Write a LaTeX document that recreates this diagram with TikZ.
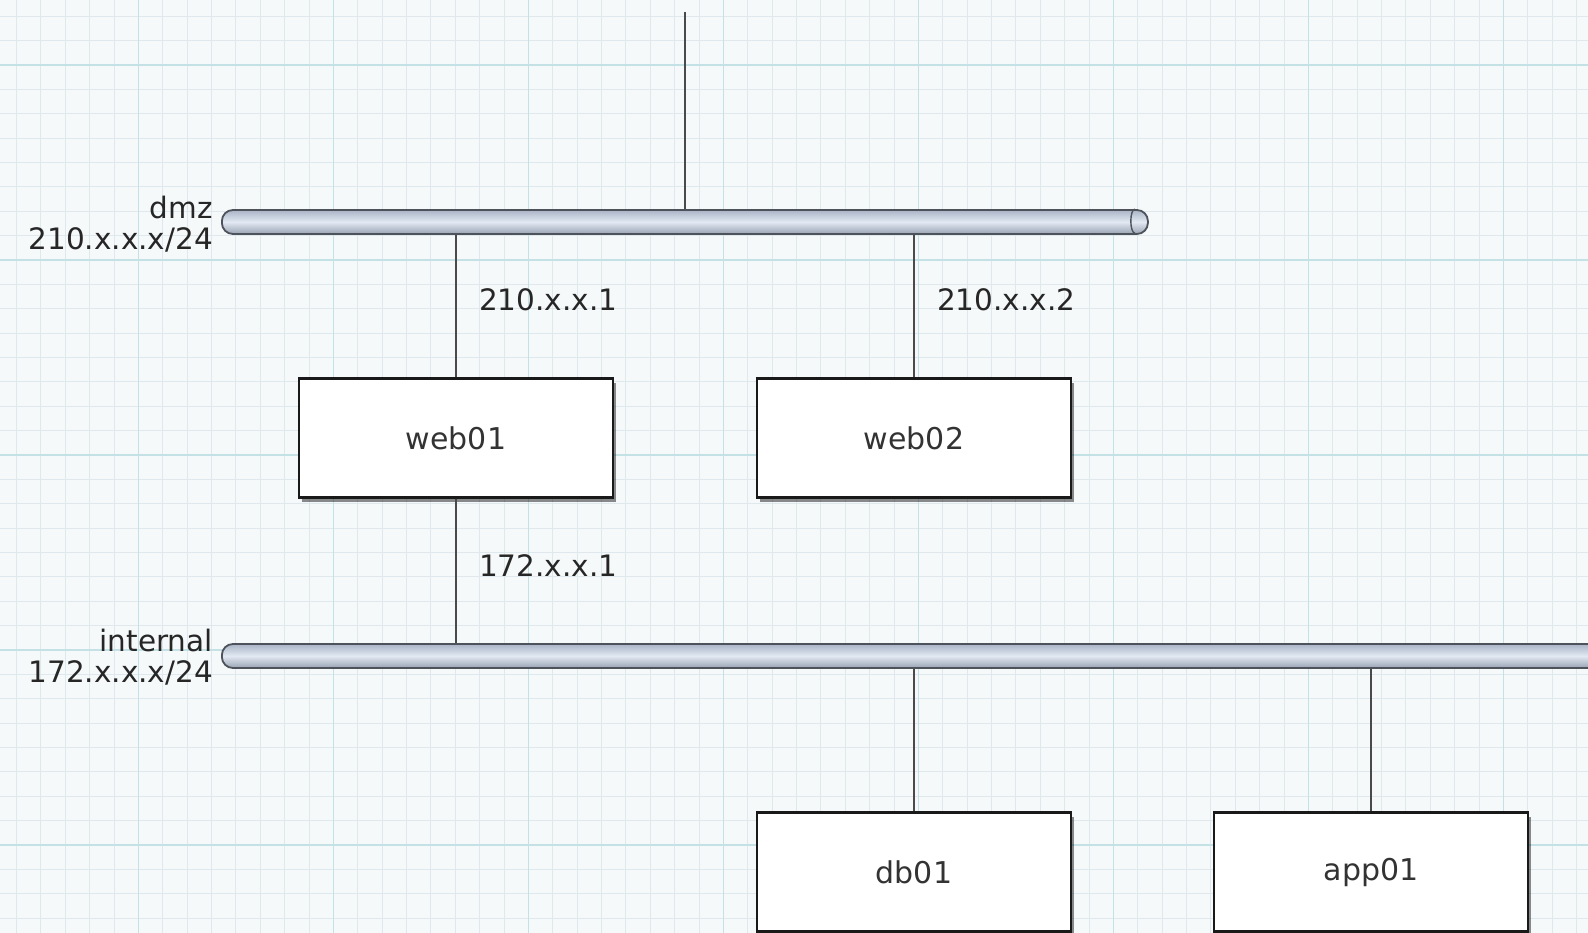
\documentclass[tikz,border=0pt]{standalone}
\usepackage{fontspec}
\setmainfont{DejaVu Sans}
\usetikzlibrary{shadows}
\definecolor{bg}{HTML}{F6F9FA}
\definecolor{gridminor}{HTML}{DFE8EC}
\definecolor{gridmajor}{HTML}{C4E2E6}
\definecolor{barline}{HTML}{4E525A}
\definecolor{bardark}{HTML}{A9B4C6}
\definecolor{barlight}{HTML}{E2E9F3}
\definecolor{wire}{HTML}{4A4A4A}
\tikzset{
  x=1pt, y=-1pt,
  lab/.style={font=\fontsize{29.5}{31}\selectfont, text=black!85, inner sep=0pt},
  netlab/.style={lab, align=right, anchor=east},
  host/.style={draw=black!90, line width=2.2pt, fill=white, minimum width=314, minimum height=119,
    inner sep=0pt, font=\fontsize{30}{31}\selectfont, text=black!80,
    drop shadow={shadow xshift=3pt, shadow yshift=-4pt, opacity=0.45, fill=black}},
  bus/.style={draw=barline, line width=1.8pt, rounded corners=11pt, minimum height=24, inner sep=0pt,
    top color=bardark, bottom color=bardark!90!black, middle color=barlight, shading angle=0},
  wireline/.style={draw=wire, line width=1.3pt},
}
\begin{document}
\begin{tikzpicture}
\useasboundingbox (0,0) rectangle (1588,933);
\clip (0,0) rectangle (1588,933);
\fill[bg] (0,0) rectangle (1588,933);
% minor grid
\foreach \i in {0,...,66} {
  \draw[gridminor, line width=0.8pt] ({16.4+24.375*\i},0) -- ({16.4+24.375*\i},933);
}
\foreach \i in {0,...,39} {
  \draw[gridminor, line width=0.8pt] (0,{16.25+24.375*\i}) -- (1588,{16.25+24.375*\i});
}
% major grid
\foreach \i in {0,...,7} {
  \draw[gridmajor, line width=1.3pt] ({138.3+195*\i},0) -- ({138.3+195*\i},933);
}
\foreach \i in {0,...,4} {
  \draw[gridmajor, line width=1.3pt] (0,{65+195*\i}) -- (1588,{65+195*\i});
}

% hosts
\node[host] (web01) at (456,438) {web01};
\node[host] (web02) at (914,438) {web02};
\node[host] (db01) at (914,872) {db01};
\node[host] (app01) at (1371,872) {app01};

% buses (positions), drawn after connectors
\coordinate (dmzpos) at (221,222);
\coordinate (intpos) at (221,656);
\path (dmzpos) node[minimum width=926, minimum height=24, inner sep=0pt, anchor=west] (dmzref) {};
\path (intpos) node[minimum width=1400, minimum height=24, inner sep=0pt, anchor=west] (intref) {};

% connectors
\coordinate (uplink) at (685,12);
\draw[wireline] (uplink) -- (uplink |- dmzref.north);
\draw[wireline] (web01.north) -- (web01.north |- dmzref.south);
\draw[wireline] (web02.north) -- (web02.north |- dmzref.south);
\draw[wireline] (web01.south) -- (web01.south |- intref.north);
\draw[wireline] (db01.north) -- (db01.north |- intref.south);
\draw[wireline] (app01.north) -- (app01.north |- intref.south);

\node[bus, minimum width=926, anchor=west] (dmz) at (dmzpos) {};
\node[bus, minimum width=1400, anchor=west] (internal) at (intpos) {};
\draw[barline, line width=1.4pt] ([xshift=-14pt]dmz.north east) arc[start angle=90, end angle=270, x radius=4pt, y radius=12pt];

% bus labels
\node[netlab] (dmzlab) at (213,224) {dmz\\210.x.x.x/24};
\node[netlab] (intlab) at (213,657) {internal\\172.x.x.x/24};

% address labels
\node[lab, anchor=west] (a1) at (479,300) {210.x.x.1};
\node[lab, anchor=west] (a2) at (937,300) {210.x.x.2};
\node[lab, anchor=west] (a3) at (479,566) {172.x.x.1};
\end{tikzpicture}
\end{document}
